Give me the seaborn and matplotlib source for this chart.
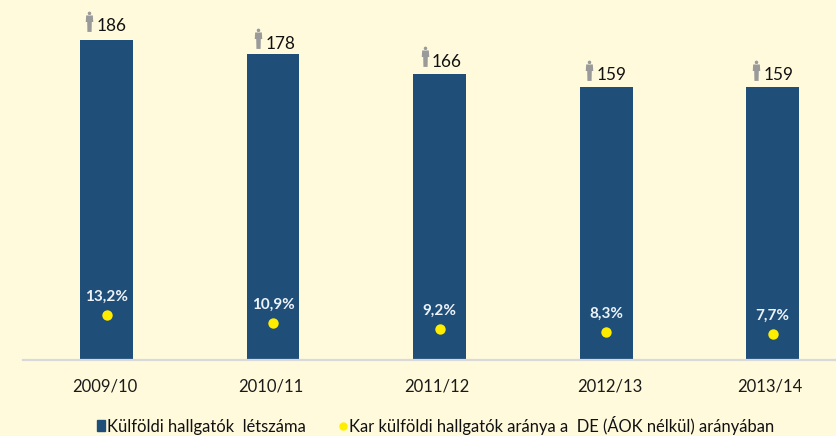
import numpy as np
import pandas as pd
import matplotlib
matplotlib.use('Agg')
import matplotlib.pyplot as plt
import matplotlib.transforms as mtrans
from matplotlib.path import Path
from matplotlib.lines import Line2D
from matplotlib.patches import Patch
import seaborn as sns

years = ['2009/10', '2010/11', '2011/12', '2012/13', '2013/14']
students = [186, 178, 166, 159, 159]
share = [13.2, 10.9, 9.2, 8.3, 7.7]
share_labels = ['13,2%', '10,9%', '9,2%', '8,3%', '7,7%']
legend_labels = ['Külföldi hallgatók  létszáma', 'Kar külföldi hallgatók aránya a  DE (ÁOK nélkül) arányában']

# hand nudges in pixels, the labels and icons are not evenly placed in the original
icon_dx = [-17.5, -15, -15, -17, -17]
icon_dy = [19, 16, 18, 17, 17]
label_dx = [5.5, 7.5, 7.5, 5.5, 6]
label_dy = [9, 5, 7, 7, 7]
tick_dx = [-1.5, -2.5, -2.5, 3.5, -2.5]

BG = '#FFFADC'
BLUE = '#1F4E79'
YELLOW = '#FFED00'
GREY = '#9A9A9A'
PX = 72 / 100

sns.set_theme(style='white')
plt.rcParams['font.family'] = ['Lato', 'DejaVu Sans']

df = pd.DataFrame({'year': years, 'students': students, 'share': share})

# little person icon, used as a marker above the bars
theta = np.linspace(0, 2 * np.pi, 24)
head = np.column_stack([0.17 * np.cos(theta), 0.78 + 0.17 * np.sin(theta)])
body = np.array([[-0.32, 0.58], [0.32, 0.58], [0.36, -0.05], [0.22, -0.05], [0.2, -1.0],
                 [-0.2, -1.0], [-0.22, -0.05], [-0.36, -0.05], [-0.32, 0.58]])
person = Path(np.vstack([head, body]),
              [Path.MOVETO] + [Path.LINETO] * 22 + [Path.CLOSEPOLY] +
              [Path.MOVETO] + [Path.LINETO] * 7 + [Path.CLOSEPOLY])


def main():
  fig = plt.figure(figsize=(8.37, 4.36), dpi=100, facecolor=BG)
  ax = fig.add_axes([23 / 837, 76 / 436, 814 / 837, 360 / 436])
  ax.set_facecolor(BG)

  sns.barplot(data=df, x='year', y='students', color=BLUE, width=0.318, saturation=1, linewidth=0, ax=ax)
  ax.set_xlim(-0.5015, 4.387)
  ax.set_ylim(0, 209.3)
  ax.set_xlabel('')
  ax.set_ylabel('')
  ax.set_yticks([])
  ax.tick_params(axis='x', length=0, pad=13, labelsize=12, labelcolor='#1a1a1a')
  for i, lab in enumerate(ax.get_xticklabels()):
    lab.set_transform(lab.get_transform() + mtrans.Affine2D().translate(tick_dx[i], 0))
  for side in ['top', 'left', 'right']:
    ax.spines[side].set_visible(False)
  ax.spines['bottom'].set_color('#D9D9D9')
  ax.spines['bottom'].set_linewidth(1.6)

  # headcount labels and icons
  for i, val in enumerate(students):
    icon_trans = mtrans.offset_copy(ax.transData, fig=fig, x=icon_dx[i], y=icon_dy[i], units='dots')
    ax.plot([i], [val], linestyle='none', marker=person, markersize=15,
            color=GREY, markeredgewidth=0, transform=icon_trans, clip_on=False, zorder=4)
    ax.annotate(str(val), (i, val), xytext=(label_dx[i] * PX, label_dy[i] * PX), textcoords='offset points',
                ha='center', va='baseline', fontsize=12.4, color='#111111')

  # share dots on their own scale
  ax2 = ax.twinx()
  sns.scatterplot(x=list(range(len(years))), y=share, color=YELLOW, s=56, linewidth=0, ax=ax2, zorder=5)
  ax2.set_ylim(0, 105.9)
  ax2.set_xlim(ax.get_xlim())
  ax2.set_yticks([])
  ax2.axis('off')
  for i, val in enumerate(share):
    ax2.annotate(share_labels[i], (i, val), xytext=(0, 10), textcoords='offset points', ha='center',
                 va='baseline', fontsize=11, fontweight='bold', color='#EEF3F8')

  handles = [Patch(color=BLUE, label=legend_labels[0]),
             Line2D([], [], linestyle='none', marker='o', markersize=5, color=YELLOW, label=legend_labels[1])]
  fig.legend(handles=handles, loc='center', bbox_to_anchor=(436 / 837, 1 - 425 / 436), ncol=2, frameon=False,
             fontsize=11.9, labelcolor='#111111', handlelength=0.45, handleheight=0.6, handletextpad=0.15,
             columnspacing=2.0, borderpad=0)

  fig.savefig('out.png', dpi=100, facecolor=BG)


if __name__ == '__main__':
  main()
